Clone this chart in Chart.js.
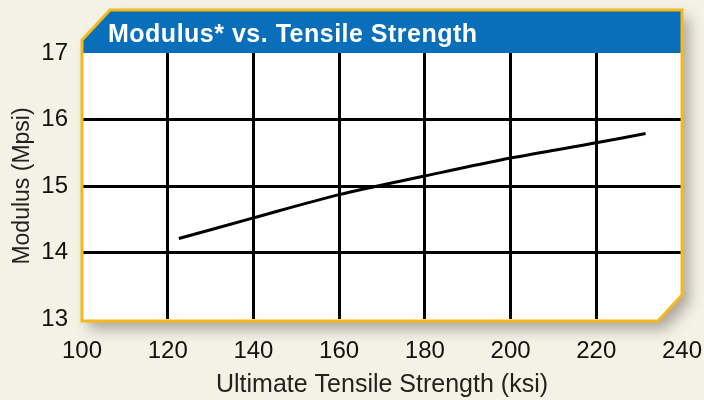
<!DOCTYPE html>
<html>
<head>
<meta charset="utf-8">
<script src="https://cdn.jsdelivr.net/npm/chart.js@4.4.1/dist/chart.umd.min.js"></script>
<style>
  html, body { margin: 0; padding: 0; background: #f4f1e5; }
  #wrap { width: 704px; height: 400px; }
</style>
</head>
<body>
<div id="wrap"><canvas id="myChart" width="704" height="400"></canvas></div>
<script>
var chartTitle = "Modulus* vs. Tensile Strength";
var strength = [122.6, 140, 160, 180, 200, 220, 231.5];   // ksi
var modulus = [14.21, 14.52, 14.87, 15.15, 15.42, 15.65, 15.79]; // Mpsi
var xTicks = [100, 120, 140, 160, 180, 200, 220, 240];
var yTicks = [13, 14, 15, 16, 17];

var FONT = "'Liberation Sans', Arial, Helvetica, sans-serif";
var GOLD = '#f6b91a';
var BLUE = '#0a6fba';

function panelPath(ctx, a) {
  var l = a.left, r = a.right, t = 10, b = a.bottom + 2;
  ctx.beginPath();
  ctx.moveTo(l + 28, t);
  ctx.lineTo(r, t);
  ctx.lineTo(r, b - 26);
  ctx.lineTo(r - 24, b);
  ctx.lineTo(l, b);
  ctx.lineTo(l, t + 30);
  ctx.closePath();
}

// panel, banner and title
const panel = {
  id: 'panel',
  beforeDraw(chart) {
    const ctx = chart.ctx, a = chart.chartArea;
    ctx.save();
    ctx.fillStyle = '#f4f1e5';
    ctx.fillRect(0, 0, chart.width, chart.height);

    ctx.shadowColor = 'rgba(60,55,40,0.4)';
    ctx.shadowBlur = 14;
    ctx.shadowOffsetX = 7;
    ctx.shadowOffsetY = 8;
    panelPath(ctx, a);
    ctx.fillStyle = '#ffffff';
    ctx.fill();
    ctx.restore();

    // blue banner
    ctx.save();
    panelPath(ctx, a);
    ctx.clip();
    ctx.fillStyle = BLUE;
    ctx.fillRect(a.left, 10, a.right - a.left, a.top - 10);
    ctx.restore();

    ctx.save();
    ctx.fillStyle = '#ffffff';
    ctx.font = 'bold 25px ' + FONT;
    ctx.letterSpacing = '0.5px';
    ctx.textBaseline = 'alphabetic';
    ctx.fillText(chartTitle, a.left + 26, 42);
    ctx.restore();
  },
  afterDraw(chart) {
    const ctx = chart.ctx, a = chart.chartArea;
    ctx.save();
    panelPath(ctx, a);
    ctx.strokeStyle = GOLD;
    ctx.lineWidth = 3;
    ctx.stroke();
    ctx.restore();
  }
};

function innerGrid(min, max) {
  return function (c) {
    const v = c.tick && c.tick.value;
    return (v === min || v === max) ? 'rgba(0,0,0,0)' : '#000000';
  };
}

const config = {
  type: 'scatter',
  data: {
    datasets: [{
      label: 'Modulus',
      data: strength.map((x, i) => ({ x: x, y: modulus[i] })),
      showLine: true,
      borderColor: '#000000',
      borderWidth: 3,
      pointRadius: 0,
      tension: 0.3,
      fill: false
    }]
  },
  options: {
    responsive: false,
    animation: false,
    layout: { padding: { top: 53, right: 22, left: 0, bottom: 0 } },
    plugins: {
      legend: { display: false },
      tooltip: { enabled: false },
      title: { display: false }
    },
    scales: {
      x: {
        type: 'linear',
        min: 100, max: 240,
        afterBuildTicks: s => { s.ticks = xTicks.map(v => ({ value: v })); },
        afterFit: s => { s.height = 81; s.paddingLeft = 0; s.paddingRight = 0; },
        border: { display: false },
        grid: { color: innerGrid(100, 240), lineWidth: 3, drawTicks: false },
        ticks: { color: '#111', font: { family: FONT, size: 24 }, padding: 18, maxRotation: 0 },
        title: { display: true, text: 'Ultimate Tensile Strength (ksi)', color: '#222',
                 font: { family: FONT, size: 25 }, padding: { top: 0, bottom: 0 } }
      },
      y: {
        min: 13, max: 17,
        afterBuildTicks: s => { s.ticks = yTicks.map(v => ({ value: v })); },
        afterFit: s => { s.width = 82; s.paddingTop = 0; s.paddingBottom = 0; },
        border: { display: false },
        grid: { color: innerGrid(13, 17), lineWidth: 3, drawTicks: false },
        ticks: { color: '#111', font: { family: FONT, size: 24 }, padding: 14 },
        title: { display: true, text: 'Modulus (Mpsi)', color: '#222',
                 font: { family: FONT, size: 23 }, padding: { top: 9, bottom: 0 } }
      }
    }
  },
  plugins: [panel]
};

var ctx = document.getElementById('myChart');
var myChart = new Chart(ctx, config);
</script>
</body>
</html>
